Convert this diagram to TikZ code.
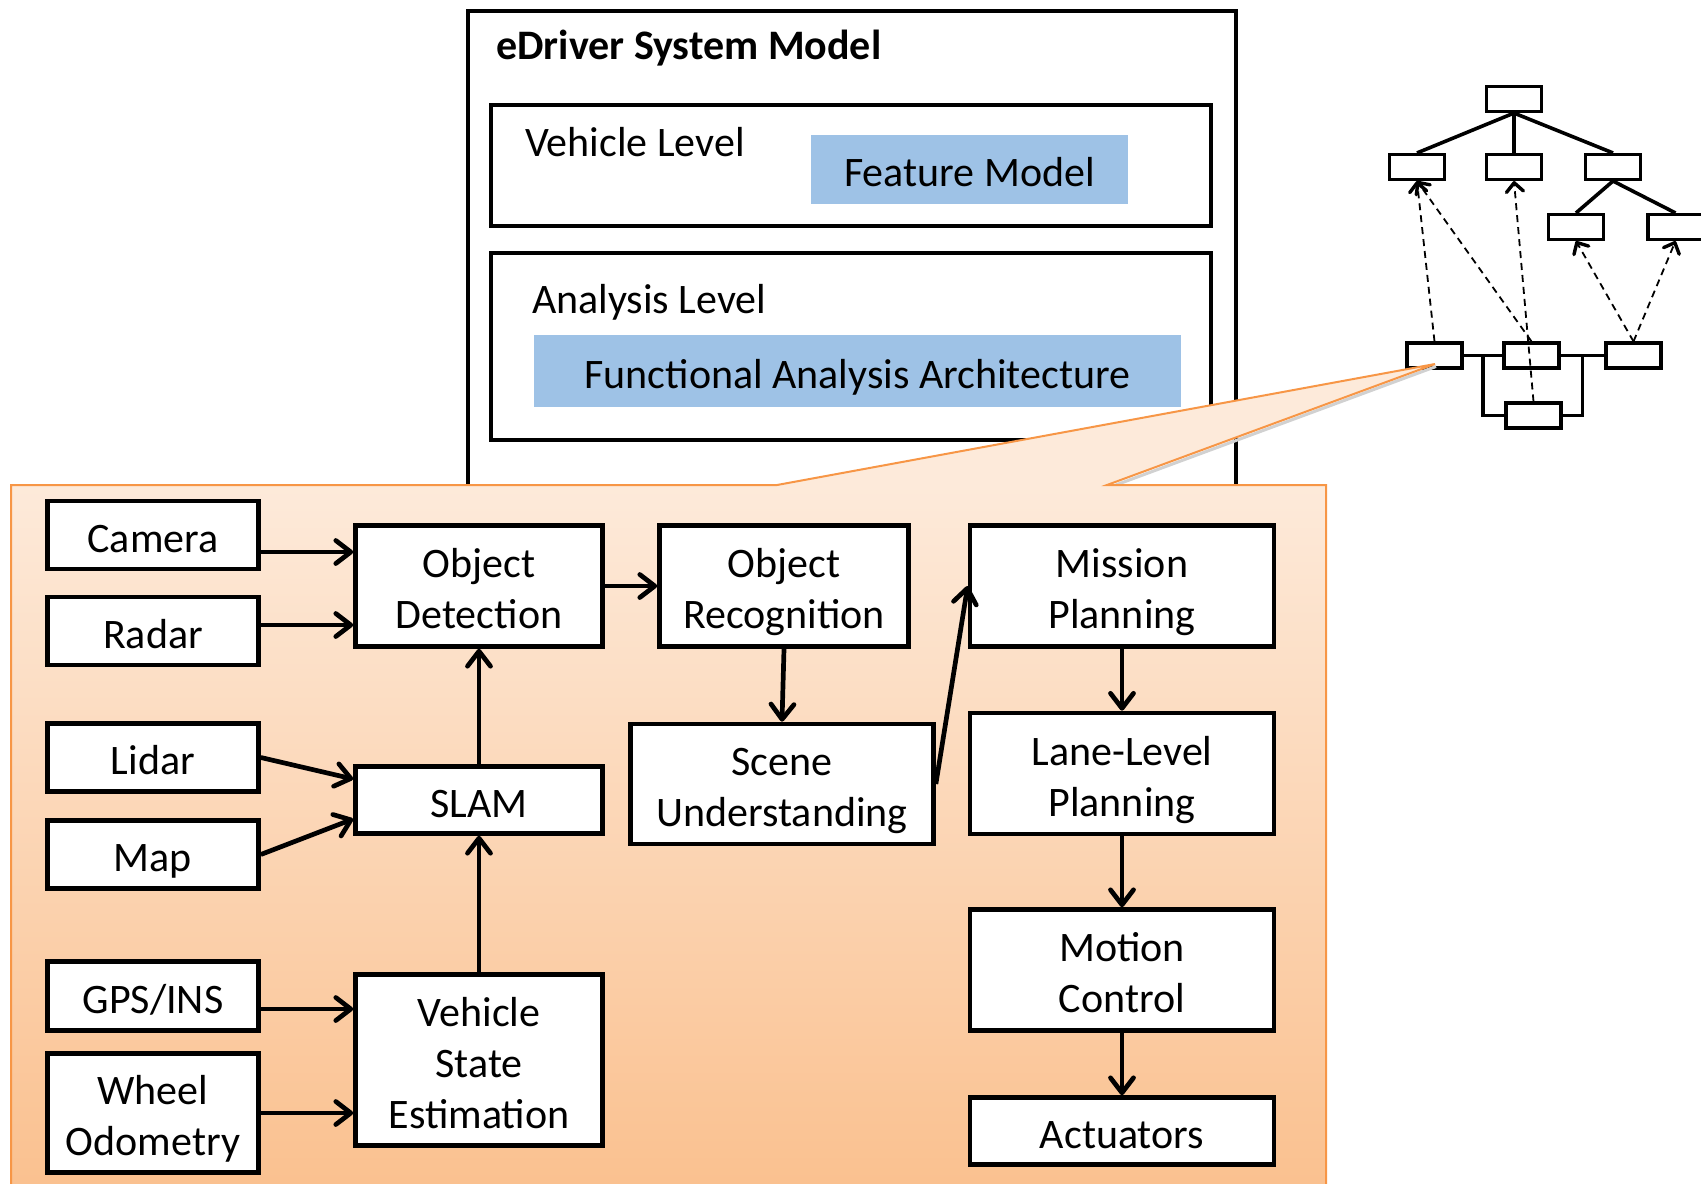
\documentclass[tikz,border=0pt]{standalone}
\usepackage{fontspec}
\setmainfont{Carlito}
\usetikzlibrary{arrows.meta,calc}
\definecolor{fablue}{RGB}{158,194,230}
\definecolor{paneltop}{RGB}{253,234,218}
\definecolor{panelbot}{RGB}{250,192,142}
\definecolor{panelrim}{RGB}{247,150,70}

% block text: centred lines, set slightly below the geometric centre
\newcommand\lowtext[1]{\raisebox{-7pt}[\height][\depth]{\begin{tabular}{@{}c@{}}#1\end{tabular}}}

\begin{document}
\begin{tikzpicture}[x=1pt,y=-1pt,
  blk/.style={draw, line width=4.7pt, fill=white, inner sep=0pt,
    font=\fontsize{42}{51}\selectfont},
  flow/.style={line width=4.7pt, -{Straight Barb[length=15pt,width=23pt,round]}},
  frame/.style={draw, line width=4.7pt},
  lbl/.style={inner sep=0pt, anchor=west, font=\fontsize{42}{51}\selectfont},
  bluebox/.style={fill=fablue, inner sep=0pt, font=\fontsize{42}{51}\selectfont},
  fm/.style={draw, line width=3.1pt, fill=white, minimum width=55pt,
    minimum height=25pt, inner sep=0pt},
  tie/.style={line width=3.6pt},
  trace/.style={line width=1.8pt, dash pattern=on 7pt off 5pt,
    -{Straight Barb[length=9pt,width=17pt,round,line width=3.4pt]}},
]
\useasboundingbox (0,0) rectangle (1701,1184);

% ---- system model frame ----
\draw[frame] (468,11) rectangle (1236,540);
\node[lbl, font=\bfseries\fontsize{42}{51}\selectfont] (title) at (496,48) {eDriver System Model};

\draw[frame] (491,105) rectangle (1211,226);
\node[lbl] (vlevel) at (525,142) {Vehicle Level};
\node[bluebox, minimum width=317pt, minimum height=69pt] (feat) at (969.5,169.5) {\lowtext{Feature Model}};

\draw[frame] (491,253) rectangle (1211,440);
\node[lbl] (alevel) at (532,302) {Analysis Level};
\node[bluebox, minimum width=647pt, minimum height=72pt] (faa) at (857.5,371) {\lowtext{Functional Analysis Architecture}};

% ---- feature tree ----
\node[fm] (fR) at (1514,99) {};
\node[fm] (fA) at (1417,167) {};
\node[fm] (fB) at (1514,167) {};
\node[fm] (fC) at (1613,167) {};
\node[fm] (fD) at (1576,227) {};
\node[fm] (fE) at (1675.5,227) {};
\draw[tie] (fR.south) -- (fA.north);
\draw[tie] (fR.south) -- (fB.north);
\draw[tie] (fR.south) -- (fC.north);
\draw[tie] (fC.south) -- (fD.north);
\draw[tie] (fC.south) -- (fE.north);

% ---- functional blocks ----
\node[fm] (fF) at (1434.5,355.5) {};
\node[fm] (fG) at (1531.5,355.5) {};
\node[fm] (fH) at (1633.5,355.5) {};
\node[fm] (fI) at (1533.5,415.5) {};
\draw[tie] (fF.east) -- (fG.west);
\draw[tie] (fG.east) -- (fH.west);
\draw[tie] ($(fF.east)!0.5!(fG.west)$) |- (fI.west);
\draw[tie] ($(fG.east)!0.5!(fH.west)$) |- (fI.east);

\draw[trace] (fF.north) -- (fA.south);
\draw[trace] (fG.north) -- (fA.south);
\draw[trace] (fI.north) -- (fB.south);
\draw[trace] (fH.north) -- (fD.south);
\draw[trace] (fH.north) -- (fE.south);

% ---- zoomed-in panel with callout ----
\draw[black!18, line width=3pt] (1109,487.5) -- (1436,366.5);
\shade[top color=paneltop, bottom color=panelbot] (11,485) rectangle (1326,1200);
\fill[paneltop] (777,485) -- (1435,364) -- (1107,485) -- cycle;
\draw[panelrim, line width=2pt, line join=miter]
  (11,1200) -- (11,485) -- (777,485) -- (1435,364) -- (1107,485) -- (1326,485) -- (1326,1200);

% ---- sensors ----
\node[blk, minimum width=211pt, minimum height=68pt] (cam) at (153,535) {\lowtext{Camera}};
\node[blk, minimum width=211pt, minimum height=68pt] (radar) at (153,631) {\lowtext{Radar}};
\node[blk, minimum width=211pt, minimum height=68pt] (lidar) at (153,757.5) {\lowtext{Lidar}};
\node[blk, minimum width=211pt, minimum height=68pt] (map) at (153,854.5) {\lowtext{Map}};
\node[blk, minimum width=211pt, minimum height=69pt] (gps) at (153,996) {\lowtext{GPS/INS}};
\node[blk, minimum width=211pt, minimum height=119pt] (wheel) at (153,1113) {\lowtext{Wheel\\Odometry}};

% ---- processing chain ----
\node[blk, minimum width=247pt, minimum height=121pt] (od) at (479,586) {\lowtext{Object\\Detection}};
\node[blk, minimum width=247pt, minimum height=67pt] (slam) at (479,800) {\lowtext{SLAM}};
\node[blk, minimum width=247pt, minimum height=171pt] (vse) at (479,1060) {\lowtext{Vehicle\\State\\Estimation}};
\node[blk, minimum width=249pt, minimum height=121pt] (or) at (784,586) {\lowtext{Object\\Recognition}};
\node[blk, minimum width=303pt, minimum height=120pt] (su) at (782,784) {\lowtext{Scene\\Understanding}};
\node[blk, minimum width=304pt, minimum height=121pt] (mp) at (1122,586) {\lowtext{Mission\\Planning}};
\node[blk, minimum width=304pt, minimum height=121pt] (llp) at (1122,773.5) {\lowtext{Lane-Level\\Planning}};
\node[blk, minimum width=304pt, minimum height=121pt] (mc) at (1122,970) {\lowtext{Motion\\Control}};
\node[blk, minimum width=304pt, minimum height=67pt] (act) at (1122,1131) {\lowtext{Actuators}};

% ---- data flow ----
\draw[flow] ($(cam.east)+(0,17)$) -- ($(od.west)+(0,-34)$);
\draw[flow] ($(radar.east)+(0,-6)$) -- ($(od.west)+(0,39)$);
\draw[flow] (lidar.east) -- ($(slam.west)+(0,-21)$);
\draw[flow] (map.east) -- ($(slam.west)+(0,19)$);
\draw[flow] ($(gps.east)+(0,13)$) -- ($(vse.west)+(0,-51)$);
\draw[flow] (wheel.east) -- (vse.west |- wheel.east);
\draw[flow] (vse.north) -- (slam.south);
\draw[flow] (slam.north) -- (od.south);
\draw[flow] (od.east) -- (or.west);
\draw[flow] (or.south) -- (su.north);
\draw[flow] (su.east) -- (mp.west);
\draw[flow] (mp.south) -- (llp.north);
\draw[flow] (llp.south) -- (mc.north);
\draw[flow] (mc.south) -- (act.north);
\end{tikzpicture}
\end{document}
